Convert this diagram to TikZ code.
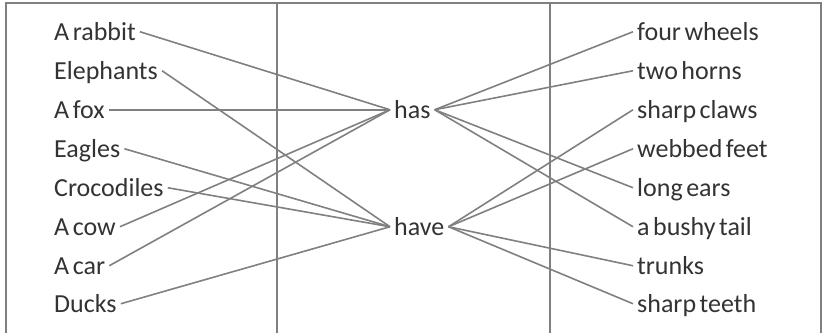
\documentclass[tikz,border=0pt]{standalone}
\usepackage{fontspec}
\setmainfont[WordSpace=0.6]{Carlito}
\definecolor{linegray}{HTML}{808080}
\definecolor{textgray}{HTML}{333333}
\begin{document}
\begin{tikzpicture}[x=1pt,y=-1pt,
  frame/.style={draw=linegray,line width=2pt},
  conn/.style={draw=linegray,line width=1.6pt},
  word/.style={text=textgray,font=\fontsize{26}{30}\selectfont,inner xsep=4pt,inner ysep=0pt,
    text height=16.5pt,text depth=0pt,anchor=base west}]
\useasboundingbox (0,0) rectangle (823,333);
\draw[frame] (6,333) -- (6,3) -- (821,3) -- (821,333);
\draw[frame] (277,3) -- (277,333);
\draw[frame] (550,3) -- (550,333);
% left column
\node[word] (rabbit) at (50,40) {A rabbit};
\node[word] (eleph) at (50,79) {Elephants};
\node[word] (fox) at (50,118) {A fox};
\node[word] (eagles) at (50,157) {Eagles};
\node[word] (croc) at (50,196) {Crocodiles};
\node[word] (cow) at (50,235) {A cow};
\node[word] (car) at (50,274) {A car};
\node[word] (ducks) at (50,312) {Ducks};
% middle
\node[word] (has) at (390,118) {has};
\node[word] (have) at (390,235) {have};
% right column
\node[word] (wheels) at (633,40) {four wheels};
\node[word] (horns) at (633,79) {two horns};
\node[word] (claws) at (633,118) {sharp claws};
\node[word] (feet) at (633,157) {webbed feet};
\node[word] (ears) at (633,196) {long ears};
\node[word] (tail) at (633,235) {a bushy tail};
\node[word] (trunks) at (633,274) {trunks};
\node[word] (teeth) at (633,312) {sharp teeth};
% connectors left
\draw[conn] (rabbit.east) -- (has.west);
\draw[conn] (fox.east) -- (has.west);
\draw[conn] (cow.east) -- (has.west);
\draw[conn] (car.east) -- (has.west);
\draw[conn] (eleph.east) -- (have.west);
\draw[conn] (eagles.east) -- (have.west);
\draw[conn] (croc.east) -- (have.west);
\draw[conn] (ducks.east) -- (have.west);
% connectors right
\draw[conn] (has.east) -- (wheels.west);
\draw[conn] (has.east) -- (horns.west);
\draw[conn] (has.east) -- (ears.west);
\draw[conn] (has.east) -- (tail.west);
\draw[conn] (have.east) -- (claws.west);
\draw[conn] (have.east) -- (feet.west);
\draw[conn] (have.east) -- (trunks.west);
\draw[conn] (have.east) -- (teeth.west);
\end{tikzpicture}
\end{document}
